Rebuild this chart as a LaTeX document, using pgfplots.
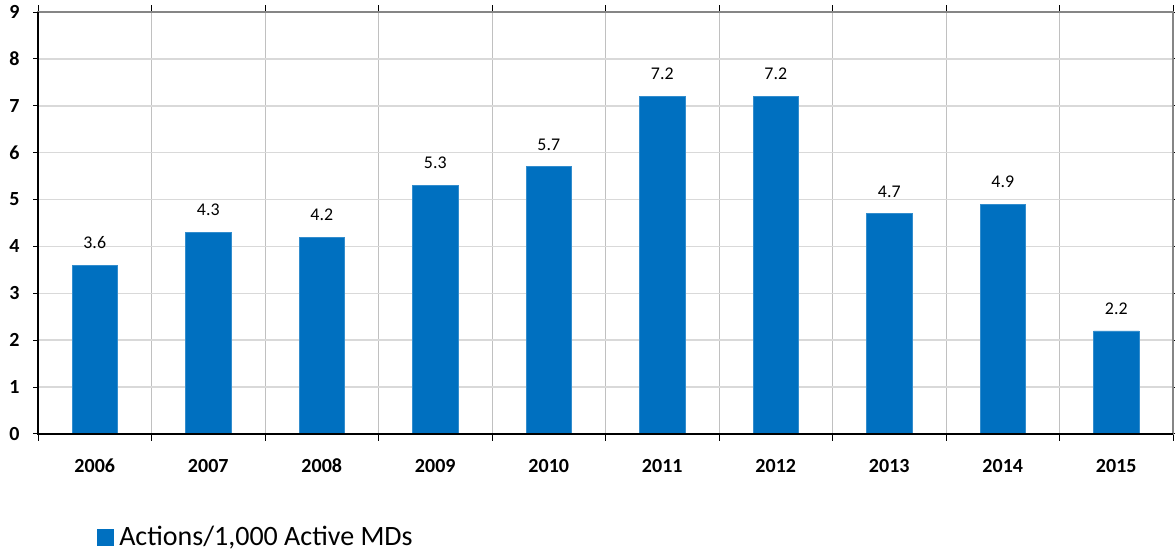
\documentclass[border=0pt]{standalone}
\usepackage{pgfplots}
\pgfplotsset{compat=1.18}
\usepackage{fontspec}
\setmainfont{Carlito}
\definecolor{barblue}{RGB}{0,112,192}
\definecolor{hgrid}{RGB}{217,217,217}
\definecolor{vgrid}{RGB}{192,192,192}
\definecolor{frame}{RGB}{134,134,134}
\begin{document}
\begin{tikzpicture}
\useasboundingbox (0,0) rectangle (881.25pt,414pt);
\begin{axis}[
  at={(28.5pt,88.5pt)}, anchor=south west,
  scale only axis, width=851.25pt, height=316.5pt,
  /pgf/number format/assume math mode=true,
  ymin=0, ymax=9, ytick={0,1,...,9},
  xmin=-0.5, xmax=9.5,
  xtick={0,...,9},
  xticklabels={2006,2007,2008,2009,2010,2011,2012,2013,2014,2015},
  minor xtick={-0.5,0.5,...,9.5},
  major x tick style={draw=none},
  minor x tick style={black, line width=0.75pt},
  y tick style={black, line width=0.75pt},
  tick align=outside,
  major tick length=3.75pt, minor tick length=5pt,
  ymajorgrids, xminorgrids,
  major grid style={hgrid, line width=1.1pt},
  minor grid style={vgrid, line width=0.75pt},
  axis line style={frame, line width=1.5pt},
  tick label style={font=\bfseries\fontsize{15}{18}\selectfont, text=black},
  xticklabel style={anchor=base, yshift=-25.5pt, inner sep=0pt},
  yticklabel style={anchor=east, xshift=-10pt, inner sep=0pt},
  ybar, bar width=0.4,
  nodes near coords,
  every node near coord/.append style={anchor=base, yshift=12.4pt, font=\fontsize{13.4}{16}\selectfont, text=black,
    /pgf/number format/.cd, fixed, precision=1, fixed zerofill, assume math mode=true},
  legend style={at={(rel axis cs:0.0515,-0.244)}, anchor=west, draw=none, fill=none,
    inner sep=0pt, font=\fontsize{21}{25}\selectfont,
    nodes={inner sep=2pt},
    /tikz/every odd column/.append style={column sep=2.5pt}},
  legend image code/.code={\fill[barblue] (0pt,-6pt) rectangle (12pt,6pt);},
  clip=false,
]
\addplot[fill=barblue, draw=barblue!80!white, line width=0.4pt] coordinates {
  (0,3.6) (1,4.3) (2,4.2) (3,5.3) (4,5.7) (5,7.2) (6,7.2) (7,4.7) (8,4.9) (9,2.2)
};
\addlegendentry{Actions/1,000 Active MDs}
\draw[black, line width=1.4pt] (rel axis cs:0,1) -- (rel axis cs:0,0) -- (rel axis cs:1,0);
\end{axis}
\end{tikzpicture}
\end{document}
